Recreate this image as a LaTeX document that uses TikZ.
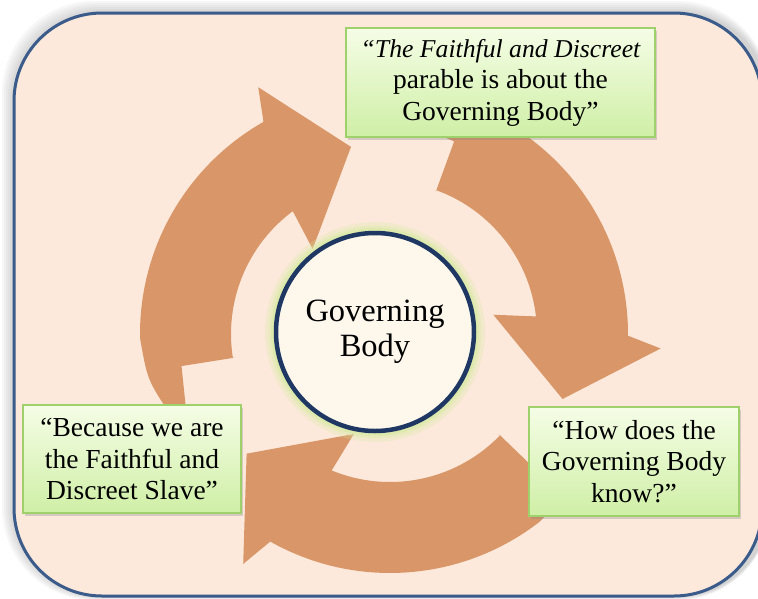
\documentclass[tikz,border=0pt]{standalone}
\usepackage{fontspec}
\setmainfont{Liberation Serif}
\usetikzlibrary{shadows}

\definecolor{peach}{RGB}{252,233,219}
\definecolor{frameline}{RGB}{59,92,139}
\definecolor{arrowc}{RGB}{217,151,105}
\definecolor{boxtop}{RGB}{245,253,230}
\definecolor{boxbot}{RGB}{207,239,166}
\definecolor{boxline}{RGB}{158,208,108}
\definecolor{ringc}{RGB}{31,56,99}
\definecolor{cream}{RGB}{254,248,236}
\definecolor{creamdark}{RGB}{230,214,196}
\definecolor{glowc}{RGB}{214,233,160}

\pgfdeclareradialshading{gbshade}{\pgfpoint{0bp}{0bp}}{color(0bp)=(cream); color(40bp)=(cream); color(47.5bp)=(creamdark); color(50bp)=(creamdark)}

\newcommand{\cyclearrow}[3]{%
	\begin{scope}[shift={#1}]
		\fill[arrowc] ({#2}:151) -- ({#2}:205) -- ({#2-12}:212) -- ({#2-12}:228) .. controls ({#2-2}:241) .. ({#2+8}:244)
			arc[start angle={#2+8}, end angle={#3-19.6}, radius=244] -- ({#3-17}:277) -- ({#3}:190) -- ({#3-30}:111)
			-- ({#3-26.6}:153) arc[start angle={#3-26.6}, end angle={#2}, radius=153] -- cycle;
	\end{scope}%
}

\begin{document}
\begin{tikzpicture}[x=1pt,y=-1pt,
		panel/.style={draw=frameline, line width=3pt, fill=peach, rounded corners=88pt},
		gbox/.style={draw=boxline, line width=1.2pt, top color=boxtop, bottom color=boxbot, align=center, inner sep=0pt,
			font=\fontsize{27.5}{31.5}\selectfont, drop shadow={shadow xshift=2pt, shadow yshift=-3pt, opacity=.3}},
		gbcircle/.style={circle, draw=ringc, line width=4.5pt, shade, shading=gbshade, minimum size=198pt, align=center,
			inner sep=0pt, font=\fontsize{32.5}{35}\selectfont}]
	\useasboundingbox (0,0) rectangle (758,598);
	\foreach \s in {2,4,...,12}
		\fill[black, opacity=.03, rounded corners=92pt] ({14-\s},{13-\s}) rectangle (770,{596+\s/3});
	\draw[panel] (14,13) rectangle (762,596);

	\cyclearrow{(384,334)}{171}{260}
	\cyclearrow{(384,334)}{-70}{20}
	\cyclearrow{(390,329)}{44}{139}

	\coordinate (gbc) at (375,332);
	\fill[glowc, opacity=.25] (gbc) circle[radius=110];
	\fill[glowc, opacity=.35] (gbc) circle[radius=106.5];
	\fill[glowc, opacity=.5] (gbc) circle[radius=104];
	\node[gbcircle] (gb) at (gbc) {Governing\\Body};

	\node[gbox, minimum width=309pt, minimum height=109pt] (parable) at (500.5,82.5)
		{{\fontsize{25.7}{31.5}\selectfont\itshape ``The Faithful and Discreet}\\parable is about the\\Governing Body''};
	\node[gbox, minimum width=218pt, minimum height=108pt] (slave) at (132,459)
		{``Because we are\\the Faithful and\\Discreet Slave''};
	\node[gbox, minimum width=210pt, minimum height=109pt] (know) at (634,461.5)
		{``How does the\\Governing Body\\know?''};
\end{tikzpicture}
\end{document}
